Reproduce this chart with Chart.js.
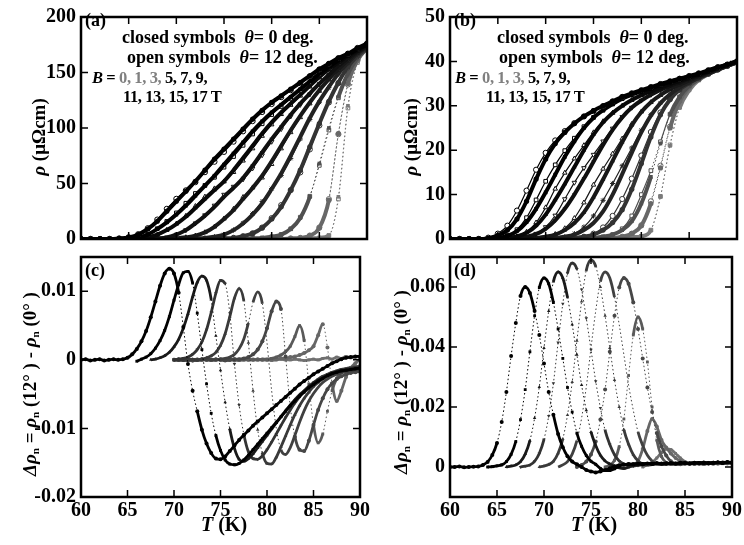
<!DOCTYPE html>
<html>
<head>
<meta charset="utf-8">
<script src="https://cdn.jsdelivr.net/npm/chart.js@4.4.1/dist/chart.umd.min.js"></script>
<style>
  body { margin: 0; background: #fff; }
  #wrap { position: relative; width: 744px; height: 545px; overflow: hidden;
          font-family: "Liberation Serif", "Times New Roman", serif; font-weight: bold; color: #000; }
  canvas { position: absolute; }
  .lbl { position: absolute; white-space: nowrap; font-size: 18px; line-height: 1; }
  .num { font-size: 16.5px; letter-spacing: -0.4px; }
  .rot { position: absolute; white-space: nowrap; font-size: 19px; line-height: 1;
         transform: translate(-50%, -50%) rotate(-90deg); }
  .ttl { position: absolute; white-space: nowrap; font-size: 20px; line-height: 1; transform: translate(-50%, -50%); }
  .gray { color: #808080; }
  sub { font-size: 11px; vertical-align: -3px; }
</style>
</head>
<body>
<div id="wrap">
  <canvas id="ca" width="372" height="256" style="left:0;top:0"></canvas>
  <canvas id="cb" width="375" height="256" style="left:369px;top:0"></canvas>
  <canvas id="cc" width="372" height="305" style="left:0;top:240px"></canvas>
  <canvas id="cd" width="375" height="305" style="left:369px;top:240px"></canvas>

  <div class="lbl" style="left:85px;top:11px">(a)</div>
  <div class="lbl" style="left:122px;top:28px">closed symbols&nbsp; <i>θ</i>= 0 deg.</div>
  <div class="lbl" style="left:127px;top:48px">open symbols&nbsp; <i>θ</i>= 12 deg.</div>
  <div class="lbl num" style="left:92px;top:70px"><i>B</i> = <span class="gray">0, 1, 3,</span> 5, 7, 9,</div>
  <div class="lbl num" style="left:123px;top:89px">11, 13, 15, 17 T</div>

  <div class="lbl" style="left:454px;top:11px">(b)</div>
  <div class="lbl" style="left:497px;top:28px">closed symbols&nbsp; <i>θ</i>= 0 deg.</div>
  <div class="lbl" style="left:499px;top:48px">open symbols&nbsp; <i>θ</i>= 12 deg.</div>
  <div class="lbl num" style="left:455px;top:70px"><i>B</i> = <span class="gray">0, 1, 3,</span> 5, 7, 9,</div>
  <div class="lbl num" style="left:486px;top:89px">11, 13, 15, 17 T</div>

  <div class="lbl" style="left:85px;top:261px">(c)</div>
  <div class="lbl" style="left:454px;top:261px">(d)</div>

  <div class="rot" style="left:38px;top:137px"><i>ρ</i> (μΩcm)</div>
  <div class="rot" style="left:410px;top:137px"><i>ρ</i> (μΩcm)</div>
  <div class="rot" style="left:30px;top:384px"><i>Δρ</i><sub>n</sub> = <i>ρ</i><sub>n</sub> (12° ) - <i>ρ</i><sub>n</sub> (0° )</div>
  <div class="rot" style="left:401px;top:382px"><i>Δρ</i><sub>n</sub> = <i>ρ</i><sub>n</sub> (12° ) - <i>ρ</i><sub>n</sub> (0° )</div>

  <div class="ttl" style="left:224px;top:524px"><i>T</i> (K)</div>
  <div class="ttl" style="left:594px;top:524px"><i>T</i> (K)</div>
</div>

<script>
// temperature grid for rho(T) panels (a), (b): 60..90 K, 1 K step
const tempRho = [60,61,62,63,64,65,66,67,68,69,70,71,72,73,74,75,76,77,78,79,80,81,82,83,84,85,86,87,88,89,90];
// fields, from the broadest (17 T) to zero field
const fields = ['17 T','15 T','13 T','11 T','9 T','7 T','5 T','3 T','1 T','0 T'];

// (a) rho in uOhm cm, theta = 0 deg (closed) and 12 deg (open)
const rhoA0 = [
  [0,0,0,0,0.5,1.5,4,9,16,25, 34,43,52,62,72,81,90,99,108,116, 123,129,135,141,147,153,158,163,167,172, 176],
  [0,0,0,0,0,0.5,1.5,4,9,15, 22,30,39,48,57,67,77,87,97,106, 114,121,128,135,142,149,155,161,166,171, 175],
  [0,0,0,0,0,0,0.5,1.5,4,8, 13.5,20,28,36,44,52,62,73,84,95, 105,114,122,130,138,146,153,159,165,170, 175],
  [0,0,0,0,0,0,0,0,0.5,1.5, 4,8,14,21,29,38,46,55,66,78, 90,101,112,122,131,140,148,156,163,169, 174],
  [0,0,0,0,0,0,0,0,0,0, 0.5,1.5,3,6,11,18,26,36,46,57, 70,84,98,111,123,134,144,153,161,168, 174],
  [0,0,0,0,0,0,0,0,0,0, 0,0,0.5,1,2,4,8,14,22,32, 45,59,75,92,109,124,137,149,159,167, 173],
  [0,0,0,0,0,0,0,0,0,0, 0,0,0,0,0,0.5,1,2.5,5,10, 18,29,44,62,83,104,124,141,155,165, 172],
  [0,0,0,0,0,0,0,0,0,0, 0,0,0,0,0,0,0,0,0.5,1, 2,4,9,19,38,68,100,128,149,163, 172],
  [0,0,0,0,0,0,0,0,0,0, 0,0,0,0,0,0,0,0,0,0, 0,0,0.5,1,3,10,35,95,140,161, 172],
  [0,0,0,0,0,0,0,0,0,0, 0,0,0,0,0,0,0,0,0,0, 0,0,0,0,0.5,1,3,38,120,160, 172]
];
const rhoA12 = [
  [0,0,0,0,0.5,1.6,4.3,9.7,17.5,27.2, 36.2,43.8,51.2,60.2,69.6,78.5,87.7,97,106.2,114.4, 121.6,127.8,134.1,140.3,146.5,152.6,157.8,162.9,167,172.1, 176.1],
  [0,0,0,0,0,0.5,1.5,4.1,9.3,15.8, 23.5,32.2,41,48.3,55.6,64.7,74.3,84.4,94.6,103.8, 112.1,119.4,126.7,133.9,141.2,148.4,154.5,160.6,165.7,170.8, 174.8],
  [0,0,0,0,0,0,0.5,1.5,4,8.1, 13.8,20.8,29.6,38.1,45.5,51.7,60.2,70.5,81.5,92.8, 103.1,112.4,120.7,129,137.2,145.4,152.6,158.7,164.7,169.8, 174.8],
  [0,0,0,0,0,0,0,0,0.5,1.5, 4,8,14.2,21.5,30.2,40,47.2,53.8,63.7,75.5, 87.7,99.1,110.5,120.9,130.2,139.4,147.6,155.7,162.8,168.8, 173.8],
  [0,0,0,0,0,0,0,0,0,0, 0.5,1.5,3,6,11.1,18.4,27.1,37.8,46.4,55.2, 67.4,81.5,96.1,109.6,122,133.3,143.5,152.6,160.7,167.8, 173.8],
  [0,0,0,0,0,0,0,0,0,0, 0,0,0.5,1,2,4,8.1,14.3,22.9,33.7, 45.4,57.3,72.6,90.1,107.7,123.2,136.4,148.6,158.7,166.7, 172.8],
  [0,0,0,0,0,0,0,0,0,0, 0,0,0,0,0,0.5,1,2.5,5.1,10.3, 18.8,30.5,44.1,60,80.7,102.3,123,140.4,154.6,164.7, 171.7],
  [0,0,0,0,0,0,0,0,0,0, 0,0,0,0,0,0,0,0,0.5,1, 2,4.1,9.2,19.6,38.5,66.3,98.1,127.2,148.7,162.8, 171.9],
  [0,0,0,0,0,0,0,0,0,0, 0,0,0,0,0,0,0,0,0,0, 0,0,0.5,1,3.1,10.4,35.9,94.4,139.2,160.8, 172],
  [0,0,0,0,0,0,0,0,0,0, 0,0,0,0,0,0,0,0,0,0, 0,0,0,0,0.5,1,3.2,36,118,159, 172]
];

// (b) rho in uOhm cm
const rhoB0 = [
  [0,0,0,0,0.2,0.8,2,4.5,8.5,13.5, 18,21.5,24,26,27.6,28.9,30,31,32,32.8, 33.5,34.2,34.9,35.5,36.1,36.7,37.3,38,38.7,39.3, 40],
  [0,0,0,0,0,0.2,0.7,1.8,3.8,6.8, 10.5,14.5,18.5,22,25,27.3,29,30.4,31.6,32.5, 33.3,34,34.7,35.4,36,36.6,37.2,37.9,38.6,39.3, 40],
  [0,0,0,0,0,0,0.2,0.6,1.4,3, 5.5,8.8,12.4,16.2,20,23.5,26.3,28.4,30,31.3, 32.4,33.3,34.1,34.9,35.6,36.3,37,37.7,38.5,39.2, 40],
  [0,0,0,0,0,0,0,0.2,0.5,1.1, 2.3,4.2,6.8,10,13.6,17.4,21.2,24.6,27.4,29.6, 31.2,32.5,33.6,34.5,35.3,36.1,36.8,37.6,38.4,39.2, 40],
  [0,0,0,0,0,0,0,0,0,0.2, 0.5,1,2,3.6,6,9.4,13.4,17.6,21.8,25.6, 28.6,30.8,32.4,33.7,34.8,35.7,36.6,37.4,38.3,39.1, 39.9],
  [0,0,0,0,0,0,0,0,0,0, 0,0.2,0.5,1,2,3.6,6.2,10,14.6,19.4, 24,27.8,30.6,32.6,34.1,35.3,36.3,37.2,38.1,39, 39.8],
  [0,0,0,0,0,0,0,0,0,0, 0,0,0,0.2,0.5,1,2,3.7,6.6,11.2, 17,23,28,31.4,33.6,35.1,36.3,37.3,38.2,39, 39.8],
  [0,0,0,0,0,0,0,0,0,0, 0,0,0,0,0,0.2,0.5,1,2,4, 8,14,21.5,28,32,34.5,36,37.2,38.2,39, 39.8],
  [0,0,0,0,0,0,0,0,0,0, 0,0,0,0,0,0,0,0.2,0.5,1.2, 3,8,16,25,31,34.2,36,37.2,38.2,39, 39.8],
  [0,0,0,0,0,0,0,0,0,0, 0,0,0,0,0,0,0,0,0.2,0.4, 0.6,2,9.5,21,29.5,33.5,35.8,37.1,38.1,39, 39.8]
];
const rhoB12 = [
  [0,0,0,0,0.3,1.2,3,6.4,10.9,15.6, 19.4,22.2,24.3,26.1,27.6,28.8,29.9,31,32,32.8, 33.5,34.2,34.9,35.5,36.1,36.7,37.3,38,38.7,39.3, 40],
  [0,0,0,0,0,0.2,0.8,2.1,4.8,8.8, 13,16.7,19.9,22.7,25.3,27.4,29,30.4,31.6,32.5, 33.3,34,34.7,35.4,36,36.6,37.2,37.9,38.6,39.3, 40],
  [0,0,0,0,0,0,0.2,0.6,1.6,3.7, 7.1,11.3,14.9,18.1,21.1,24,26.5,28.4,30,31.3, 32.4,33.3,34.1,34.9,35.6,36.3,37,37.7,38.5,39.2, 40],
  [0,0,0,0,0,0,0,0.2,0.5,1.2, 2.7,5.3,9,12.7,16,19,22,24.9,27.5,29.6, 31.2,32.5,33.6,34.5,35.3,36.1,36.8,37.6,38.4,39.2, 40],
  [0,0,0,0,0,0,0,0,0,0.2, 0.5,1.1,2.4,4.7,8.2,12.2,15.8,19.2,22.6,25.9, 28.7,30.8,32.4,33.7,34.8,35.7,36.6,37.4,38.3,39.1, 39.9],
  [0,0,0,0,0,0,0,0,0,0, 0,0.2,0.5,1.2,2.7,5.2,8.7,12.5,16.5,20.5, 24.5,28,30.6,32.6,34.1,35.3,36.3,37.2,38.1,39, 39.8],
  [0,0,0,0,0,0,0,0,0,0, 0,0,0,0.2,0.5,1.2,2.6,5.2,9,13.6, 18.8,24.1,28.5,31.6,33.6,35.1,36.3,37.3,38.2,39, 39.8],
  [0,0,0,0,0,0,0,0,0,0, 0,0,0,0,0,0.2,0.5,1,2.3,5.2, 10,15.4,21.9,28.1,32,34.5,36,37.2,38.2,39, 39.8],
  [0,0,0,0,0,0,0,0,0,0, 0,0,0,0,0,0,0,0.2,0.5,1.2, 3.1,8.5,16.5,25.3,31.1,34.2,36,37.2,38.2,39, 39.8],
  [0,0,0,0,0,0,0,0,0,0, 0,0,0,0,0,0,0,0,0.2,0.4, 0.6,2,9.6,21.2,29.7,33.6,35.8,37.1,38.1,39, 39.8]
];

// (c), (d) delta rho_n, 0.5 K step, each series starting at its own temperature
const stepDelta = 0.5;
const startC = [60, 66, 67.5, 70, 70, 70, 70, 70, 70, 70];
const deltaC = [
  [0,0.0001,-0.0001,0,0.0001,-0.0001,0,0.0001,0,0.0001,
   0.0003,0.0008,0.0016,0.0027,0.0042,0.0062,0.0085,0.0108,0.0126,0.0133,
   0.0126,0.0098,0.0048,-0.0006,-0.0045,-0.0075,-0.0102,-0.0122,-0.0136,-0.0144,
   -0.0145,-0.0141,-0.0133,-0.0125,-0.0117,-0.011,-0.0103,-0.0096,-0.009,-0.0084,
   -0.0078,-0.0072,-0.0066,-0.006,-0.0054,-0.0048,-0.0042,-0.0036,-0.0031,-0.0026,
   -0.0021,-0.0017,-0.0013,-0.0009,-0.0005,-0.0002,0.0001,0.0003,0.0004,0.0005, 0.0005],
  [-0.0002,0.0001,0.0004,0.0009,0.0017,0.0028,0.0043,0.0063,0.0087,0.011,
   0.0127,0.0129,0.0112,0.0068,0.0015,-0.0035,-0.0078,-0.011,-0.0132,-0.0146,
   -0.0152,-0.0153,-0.0151,-0.0146,-0.0139,-0.0131,-0.0123,-0.0115,-0.0107,-0.0099,
   -0.0091,-0.0083,-0.0075,-0.0067,-0.006,-0.0053,-0.0047,-0.0041,-0.0036,-0.0031,
   -0.0027,-0.0023,-0.002,-0.0018,-0.0016,-0.0015,-0.0014,-0.0013,-0.0012],
  [0,0.0001,0.0003,0.0006,0.0011,0.0019,0.003,0.0046,0.0067,0.0092,
   0.0113,0.0122,0.0116,0.0088,0.0035,-0.0015,-0.0062,-0.0101,-0.0129,-0.0145,
   -0.0148,-0.0144,-0.0137,-0.0128,-0.0119,-0.011,-0.0101,-0.0092,-0.0083,-0.0074,
   -0.0066,-0.0058,-0.0051,-0.0045,-0.0039,-0.0034,-0.003,-0.0026,-0.0023,-0.002,
   -0.0018,-0.0016,-0.0015,-0.0014,-0.0013,-0.0012],
  [0,0.0001,0.0002,0.0004,0.0008,0.0015,0.0026,0.0044,0.0069,0.0097,
   0.0116,0.0111,0.0068,-0.0006,-0.0066,-0.0108,-0.0134,-0.0144,-0.0145,-0.014,
   -0.0131,-0.012,-0.0108,-0.0096,-0.0084,-0.0073,-0.0063,-0.0054,-0.0046,-0.0039,
   -0.0033,-0.0028,-0.0024,-0.0021,-0.0018,-0.0016,-0.0014,-0.0013,-0.0012,-0.0011, -0.001],
  [0,0.0001,-0.0001,0,0.0001,0,0.0001,0.0003,0.0006,0.0011,
   0.0021,0.0038,0.0063,0.009,0.0104,0.0087,0.0025,-0.0045,-0.0102,-0.0136,
   -0.0151,-0.0152,-0.0142,-0.0127,-0.0111,-0.0095,-0.008,-0.0067,-0.0056,-0.0047,
   -0.0039,-0.0033,-0.0028,-0.0024,-0.0021,-0.0019,-0.0017,-0.0016,-0.0015,-0.0014, -0.0013],
  [0,-0.0001,0,0.0001,0,-0.0001,0,0.0001,0,0,
   0.0001,0.0002,0.0004,0.0008,0.0016,0.003,0.0054,0.0084,0.0099,0.0082,
   0.0025,-0.0045,-0.01,-0.0131,-0.0138,-0.0128,-0.011,-0.0091,-0.0074,-0.006,
   -0.0049,-0.004,-0.0033,-0.0028,-0.0024,-0.0021,-0.0019,-0.0017,-0.0016,-0.0015, -0.0014],
  [0,0,0.0001,0,-0.0001,0,0.0001,0,0,0.0001,
   0,-0.0001,0,0.0001,0.0001,0.0002,0.0004,0.0008,0.0015,0.0027,
   0.0046,0.0071,0.0085,0.0074,0.0005,-0.0068,-0.0112,-0.0131,-0.0133,-0.0118,
   -0.0095,-0.0073,-0.0056,-0.0043,-0.0034,-0.0028,-0.0024,-0.0021,-0.0019,-0.0018, -0.0017],
  [0,0.0001,0,-0.0001,0,0.0001,0,0,0.0001,0,
   0,-0.0001,0,0.0001,0,0,0.0001,0,0,0.0001,
   0.0001,0.0002,0.0004,0.0007,0.0012,0.002,0.0034,0.005,0.0028,-0.0035,
   -0.0095,-0.0121,-0.0108,-0.0075,-0.0045,-0.0027,-0.0018,-0.0013,-0.0011,-0.001, -0.0009],
  [0,0,0.0001,0,-0.0001,0,0,0.0001,0,0,
   0.0001,0,0,-0.0001,0,0.0001,0,0,0.0001,0,
   0,0.0001,0.0001,0.0002,0.0002,0.0004,0.0005,0.0007,0.001,0.0014,
   0.002,0.0036,0.0052,0.0018,-0.0035,-0.006,-0.0045,-0.0025,-0.0012,-0.0005, 0.0001],
  [0,0.0001,0,-0.0001,0,0,0.0001,0,-0.0001,0,
   0.0001,0,0,0.0001,-0.0001,0,0,0.0001,0,0,
   0,-0.0001,0,0.0001,0,0,0.0001,0,-0.0001,0,
   0.0001,0,0.0002,0.0003,0.0001,0.0004,0.0002,0.0005,0.0003,0.0004, 0.0005]
];

const startD = [60, 64, 66, 67.5, 69.5, 71.5, 73.5, 76.5, 79, 80.5];
const deltaD = [
  [0,0,0.0002,-0.0001,0,0.0001,0.0002,0.0007,0.0017,0.004,
   0.008,0.015,0.025,0.037,0.048,0.057,0.06,0.058,0.052,0.044,
   0.0345,0.025,0.0174,0.011,0.0066,0.0036,0.0018,0.0009,0,-0.001,
   -0.0015,-0.0018,-0.0015,-0.001,-0.0004,0.0002,0.0006,0.0008,0.001,0.0009,
   0.0011,0.001,0.0012,0.0011,0.0013,0.0012,0.0011,0.0013,0.0012,0.0014,
   0.0013,0.0012,0.0014,0.0013,0.0015,0.0012,0.0014,0.0016,0.0013,0.0017, 0.0015],
  [0,0.0001,0.0004,0.0007,0.0018,0.0042,0.0085,0.0158,0.0258,0.0384,
   0.0504,0.0598,0.063,0.0611,0.0548,0.046,0.0362,0.0265,0.0183,0.0113,
   0.0069,0.0038,0.0019,0.0009,-0.0005,-0.0012,-0.0012,-0.0006,0.0003,0.0007,
   0.0009,0.001,0.0011,0.0009,0.0012,0.001,0.0012,0.0011,0.0013,0.0012,
   0.0011,0.0013,0.0014,0.0012,0.0013,0.0015,0.0012,0.0014,0.0013,0.0015,
   0.0014,0.0016,0.0014],
  [0,0.0003,0.0007,0.0018,0.0043,0.0088,0.0163,0.0267,0.0397,0.052,
   0.0618,0.065,0.063,0.0566,0.0475,0.0374,0.0273,0.0189,0.0117,0.0072,
   0.0039,0.002,0.001,0.0003,-0.0003,-0.0005,0,0.0005,0.0008,0.001,
   0.0011,0.0009,0.0012,0.001,0.0013,0.0011,0.0012,0.0014,0.0012,0.0013,
   0.0014,0.0012,0.0015,0.0013,0.0014,0.0016,0.0013,0.0015,0.0014],
  [0,0.0003,0.0007,0.0019,0.0045,0.0092,0.017,0.0279,0.0415,0.0544,
   0.0646,0.068,0.066,0.0592,0.0496,0.0391,0.0286,0.0197,0.0122,0.0075,
   0.0041,0.002,0.001,0.0005,0.0003,0.0005,0.0007,0.0009,0.001,0.0011,
   0.001,0.0012,0.0011,0.0013,0.0012,0.0011,0.0013,0.0014,0.0012,0.0013,
   0.0015,0.0013,0.0014,0.0016,0.0015,0.0014],
  [0,0.0003,0.0008,0.0019,0.0046,0.0093,0.0173,0.0283,0.0421,0.0552,
   0.0656,0.069,0.0669,0.06,0.0504,0.0397,0.029,0.02,0.0124,0.0076,
   0.0041,0.0021,0.001,0.0006,0.0008,0.001,0.0009,0.0011,0.0012,0.001,
   0.0013,0.0011,0.0012,0.0014,0.0013,0.0012,0.0014,0.0015,0.0013,0.0014,
   0.0016,0.0015],
  [0,0.0007,0.0018,0.0043,0.0088,0.0163,0.0267,0.0397,0.052,0.0618,
   0.065,0.063,0.0566,0.0475,0.0374,0.0273,0.0189,0.0117,0.0072,0.0039,
   0.002,0.001,0.0008,0.0009,0.0011,0.001,0.0012,0.0011,0.0013,0.0012,
   0.0014,0.0013,0.0012,0.0015,0.0014,0.0013,0.0015,0.0016],
  [0,0.0007,0.0018,0.0042,0.0085,0.0158,0.0258,0.0384,0.0504,0.0598,
   0.063,0.0611,0.0548,0.046,0.0362,0.0265,0.0183,0.0113,0.0069,0.0038,
   0.0019,0.001,0.0009,0.0011,0.001,0.0012,0.0011,0.0013,0.0012,0.0014,
   0.0013,0.0015,0.0014,0.0016],
  [0,0.0006,0.0022,0.0068,0.016,0.0305,0.044,0.05,0.046,0.035,
   0.02,0.009,0.0035,0.0015,0.0008,0.001,0.0009,0.0011,0.0012,0.001,
   0.0012,0.0011,0.0013,0.0012,0.0014,0.0013,0.0012,0.0014],
  [0,0.0005,0.002,0.006,0.012,0.016,0.0135,0.009,0.0065,0.0045,
   0.003,0.002,0.0015,0.0012,0.0011,0.0012,0.001,0.0013,0.0012,0.0011,
   0.0013,0.0012,0.0014],
  [0,0.0008,0.0015,0.003,0.0048,0.006,0.0058,0.0045,0.003,0.0018,
   0.0012,0.001,0.0011,0.0009,0.0012,0.001,0.0012,0.0011,0.0013,0.0012]
];

// axis ticks
const tempTicks = [60, 65, 70, 75, 80, 85, 90];
const ticksA = [0, 50, 100, 150, 200];
const ticksB = [0, 10, 20, 30, 40, 50];
const ticksC = [-0.02, -0.01, 0, 0.01];
const labelsC = ['-0.02', '-0.01', '0', '0.01'];
const ticksD = [0, 0.02, 0.04, 0.06];
const labelsD = ['0', '0.02', '0.04', '0.06'];

// styles per field (17 T black ... 0 T grey)
const colorsRho = ['#000000','#000000','#080808','#101010','#181818','#222222','#333333','#505050','#686868','#7a7a7a'];
const colorsDelta = ['#000000','#000000','#1a1a1a','#333333','#3a3a3a','#404040','#474747','#5a5a5a','#666666','#707070'];
const fieldMarks = ['circle','rect','triangle','triangle','triangle','star','circle','rect','circle','rect'];
const fieldRot = [0, 0, 0, 180, 0, 0, 0, 0, 0, 0];

const tickFont = { family: '"Liberation Serif", "Times New Roman", serif', size: 20, weight: 'bold' };

// steep segments look dotted (sparse symbols), slow ones dense (solid)
function segLen(ctx) { return Math.hypot(ctx.p1.x - ctx.p0.x, ctx.p1.y - ctx.p0.y); }
function sparseStyle(limit, dense) {
  return {
    borderDash: ctx => segLen(ctx) > limit ? [1.5, 2.5] : undefined,
    borderWidth: ctx => segLen(ctx) > limit ? 1 : dense
  };
}

// frame with inward ticks on all four sides, drawn over the data
const frameTicks = {
  id: 'frameTicks',
  afterDatasetsDraw(chart) {
    const { ctx, chartArea: a, scales } = chart;
    ctx.save();
    ctx.strokeStyle = '#000';
    ctx.lineWidth = 1.5;
    ctx.beginPath();
    scales.x.ticks.forEach(t => {
      const p = scales.x.getPixelForValue(t.value);
      ctx.moveTo(p, a.bottom); ctx.lineTo(p, a.bottom - 7);
      ctx.moveTo(p, a.top); ctx.lineTo(p, a.top + 7);
    });
    scales.y.ticks.forEach(t => {
      const p = scales.y.getPixelForValue(t.value);
      ctx.moveTo(a.left, p); ctx.lineTo(a.left + 7, p);
      ctx.moveTo(a.right, p); ctx.lineTo(a.right - 7, p);
    });
    ctx.stroke();
    ctx.lineWidth = 2.5;
    ctx.strokeRect(a.left, a.top, a.right - a.left, a.bottom - a.top);
    ctx.restore();
  }
};

function rhoDatasets(closed, open) {
  const sets = [];
  fields.forEach((f, k) => {
    const col = colorsRho[k];
    sets.push({
      label: f + ' 0 deg', data: tempRho.map((t, i) => ({ x: t, y: closed[k][i] })),
      borderColor: col, backgroundColor: col, borderWidth: 4,
      segment: sparseStyle(30, 4),
      pointStyle: fieldMarks[k], rotation: fieldRot[k], pointRadius: 2.6, pointBorderWidth: 0,
      cubicInterpolationMode: 'monotone'
    });
    sets.push({
      label: f + ' 12 deg', data: tempRho.map((t, i) => ({ x: t, y: open[k][i] })),
      borderColor: col, backgroundColor: '#fff', borderWidth: 1.2,
      segment: sparseStyle(30, 1.2),
      pointStyle: fieldMarks[k], rotation: fieldRot[k], pointRadius: 2.6,
      pointBorderColor: col, pointBorderWidth: 1, cubicInterpolationMode: 'monotone'
    });
  });
  return sets;
}

function deltaDatasets(starts, vals) {
  return fields.map((f, k) => ({
    label: f,
    data: vals[k].map((v, i) => ({ x: starts[k] + i * stepDelta, y: v })),
    borderColor: colorsDelta[k], backgroundColor: colorsDelta[k], borderWidth: 2.8,
    segment: sparseStyle(20, 2.8),
    pointStyle: fieldMarks[k], rotation: fieldRot[k], pointRadius: 2, pointBorderWidth: 0,
    cubicInterpolationMode: 'monotone'
  }));
}

function makePanel(id, datasets, o) {
  new Chart(document.getElementById(id), {
    type: 'line',
    data: { datasets: datasets },
    options: {
      responsive: false,
      animation: false,
      layout: { padding: o.pad },
      plugins: { legend: { display: false }, tooltip: { enabled: false } },
      scales: {
        x: {
          type: 'linear', min: 60, max: 90,
          afterBuildTicks: s => { s.ticks = tempTicks.map(v => ({ value: v })); },
          afterFit: s => { s.height = o.xh; },
          grid: { display: false, drawTicks: false }, border: { display: false },
          ticks: { display: o.xLabels, padding: 2, font: tickFont, color: '#000',
                   autoSkip: false, maxRotation: 0, callback: v => String(v) }
        },
        y: {
          type: 'linear', min: o.ymin, max: o.ymax,
          afterBuildTicks: s => { s.ticks = o.yTicks.map(v => ({ value: v })); },
          afterFit: s => { s.width = 81; },
          grid: { display: false, drawTicks: false }, border: { display: false },
          ticks: { padding: 5, font: tickFont, color: '#000',
                   callback: (v, i) => o.yLabels[i] }
        }
      }
    },
    plugins: [frameTicks]
  });
}

makePanel('ca', rhoDatasets(rhoA0, rhoA12), {
  pad: { top: 15, right: 5, bottom: 2, left: 0 }, xh: 0, xLabels: false,
  ymin: 0, ymax: 200, yTicks: ticksA, yLabels: ticksA.map(String)
});
makePanel('cb', rhoDatasets(rhoB0, rhoB12), {
  pad: { top: 15, right: 7, bottom: 2, left: 0 }, xh: 0, xLabels: false,
  ymin: 0, ymax: 50, yTicks: ticksB, yLabels: ticksB.map(String)
});
makePanel('cc', deltaDatasets(startC, deltaC), {
  pad: { top: 17, right: 5, bottom: 0, left: 0 }, xh: 48, xLabels: true,
  ymin: -0.02, ymax: 0.015, yTicks: ticksC, yLabels: labelsC
});
makePanel('cd', deltaDatasets(startD, deltaD), {
  pad: { top: 17, right: 7, bottom: 0, left: 0 }, xh: 48, xLabels: true,
  ymin: -0.01, ymax: 0.07, yTicks: ticksD, yLabels: labelsD
});
</script>
</body>
</html>
